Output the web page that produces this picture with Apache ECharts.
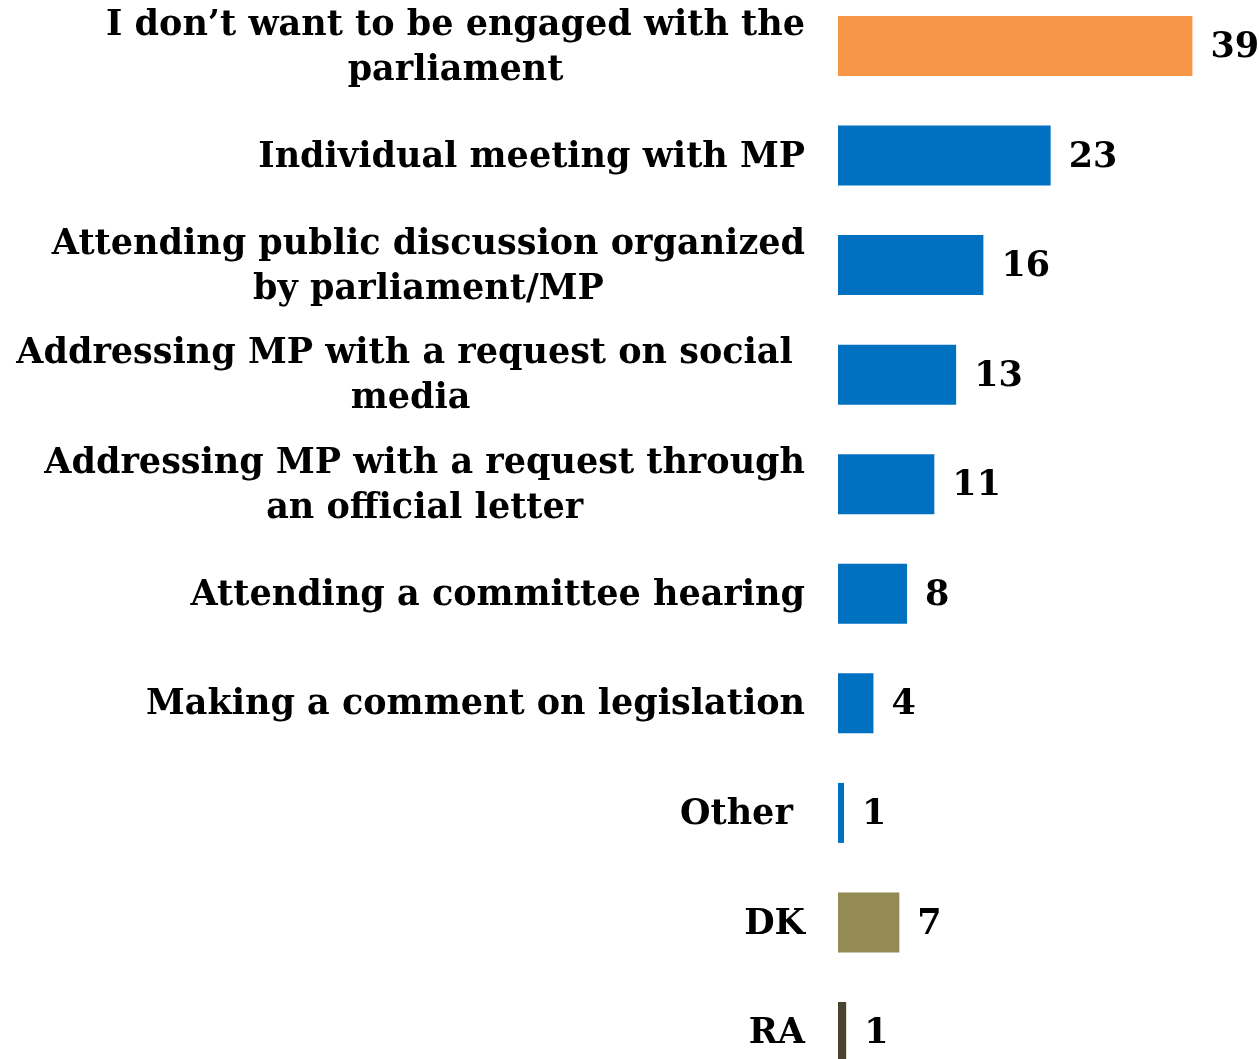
<!DOCTYPE html>
<html>
<head>
<meta charset="utf-8">
<script src="https://cdn.jsdelivr.net/npm/echarts@6/dist/echarts.min.js"></script>
<style>html,body{margin:0;padding:0;background:#fff;}#c{width:1259px;height:1059px;}</style>
</head>
<body>
<div id="c"></div>
<script>
var categories = [
  "I don\u2019t want to be engaged with the\nparliament",
  "Individual meeting with MP",
  "Attending public discussion organized\nby parliament/MP",
  "Addressing MP with a request on social \nmedia",
  "Addressing MP with a request through\nan official letter",
  "Attending a committee hearing",
  "Making a comment on legislation",
  "Other ",
  "DK",
  "RA"
];
var values = [39, 23.4, 16, 13, 10.6, 7.6, 3.9, 0.66, 6.75, 0.9];
var barColors = ["#F79646", "#0070C0", "#0070C0", "#0070C0", "#0070C0", "#0070C0", "#0070C0", "#0070C0", "#948A54", "#4A4330"];

var FONT = '"DejaVu Serif", serif';
var chart = echarts.init(document.getElementById('c'), null, {renderer: 'canvas'});
chart.setOption({
  animation: false,
  backgroundColor: '#ffffff',
  grid: {left: 838, right: 3, top: -8.8, bottom: -27.8, containLabel: false, outerBoundsMode: 'none'},
  xAxis: {
    type: 'value', min: 0, max: 46, show: false
  },
  yAxis: {
    type: 'category', data: categories, inverse: true,
    axisLine: {show: false}, axisTick: {show: false}, splitLine: {show: false},
    axisLabel: {
      margin: 33, align: 'right', padding: [4, 0, 0, 0],
      formatter: function (v) {
        return v.split('\n').map(function (l) { return '{c|' + l + '}'; }).join('\n');
      },
      rich: {
        c: {align: 'center', fontFamily: FONT, fontWeight: 'bold', fontSize: 35, color: '#000', lineHeight: 45}
      }
    }
  },
  series: [{
    type: 'bar', barWidth: 60,
    data: values.map(function (v, i) { return {value: v, itemStyle: {color: barColors[i]}}; }),
    label: {
      show: true, position: 'right', distance: 18, offset: [0, 2],
      fontFamily: FONT, fontWeight: 'bold', fontSize: 35, color: '#000',
      formatter: function (p) { return Math.round(p.value); }
    }
  }]
});
</script>
</body>
</html>
